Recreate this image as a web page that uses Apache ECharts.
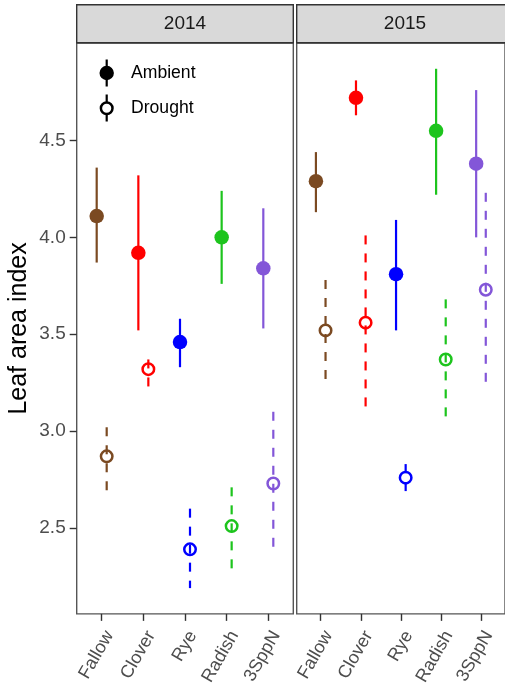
<!DOCTYPE html>
<html>
<head>
<meta charset="utf-8">
<script src="https://cdn.jsdelivr.net/npm/echarts@6/dist/echarts.min.js"></script>
<style>
  html, body { margin: 0; padding: 0; background: #fff; }
  #chart { width: 505px; height: 688px; }
</style>
</head>
<body>
<div id="chart"></div>
<script>
// categories and colours (one colour per cover crop)
var cats = ['Fallow', 'Clover', 'Rye', 'Radish', '3SppN'];
var catColors = ['#7B4A22', '#FF0000', '#0000FF', '#1DC41D', '#8356D8'];
var yTicks = [2.5, 3.0, 3.5, 4.0, 4.5];

// 2014 panel: mean, lower, upper
var amb14 = [4.11, 3.92, 3.46, 4.00, 3.84];
var amb14Lo = [3.87, 3.52, 3.33, 3.76, 3.53];
var amb14Hi = [4.36, 4.32, 3.58, 4.24, 4.15];
var dro14 = [2.87, 3.32, 2.39, 2.51, 2.73];
var dro14Lo = [2.68, 3.23, 2.19, 2.27, 2.37];
var dro14Hi = [3.02, 3.37, 2.60, 2.71, 3.10];

// 2015 panel
var amb15 = [4.29, 4.72, 3.81, 4.55, 4.38];
var amb15Lo = [4.13, 4.63, 3.52, 4.22, 4.00];
var amb15Hi = [4.44, 4.81, 4.09, 4.87, 4.76];
var dro15 = [3.52, 3.56, 2.76, 3.37, 3.73];
var dro15Lo = [3.25, 3.09, 2.69, 3.05, 3.21];
var dro15Hi = [3.78, 4.01, 2.83, 3.68, 4.23];

var dodge = 0.12;
var font = '"Liberation Sans", Arial, sans-serif';

var chart = echarts.init(document.getElementById('chart'));

function pts(vals, off) {
    return vals.map(function (v, i) {
        return [i + 1 + off, v];
    });
}

function bars(lo, hi, off) {
    return lo.map(function (v, i) {
        return [i + 1 + off, v, hi[i], i];
    });
}

function errSeries(idx, lo, hi, off, dashed) {
    return {
        type: 'custom',
        xAxisIndex: idx,
        yAxisIndex: idx,
        silent: true,
        z: 2,
        encode: {x: 0, y: [1, 2]},
        data: bars(lo, hi, off),
        renderItem: function (params, api) {
            var top = api.coord([api.value(0), api.value(2)]);
            var bot = api.coord([api.value(0), api.value(1)]);
            return {
                type: 'line',
                shape: {x1: top[0], y1: top[1], x2: bot[0], y2: bot[1]},
                style: {
                    stroke: catColors[api.value(3)],
                    lineWidth: 2.2,
                    lineDash: dashed ? [9, 9] : null
                }
            };
        }
    };
}

function pointSeries(idx, vals, off, hollow) {
    return {
        type: 'scatter',
        xAxisIndex: idx,
        yAxisIndex: idx,
        silent: true,
        z: 3,
        symbol: 'circle',
        symbolSize: hollow ? 11.5 : 14.5,
        data: pts(vals, off).map(function (p, i) {
            return {
                value: p,
                itemStyle: hollow
                    ? {color: 'rgba(0,0,0,0)', borderColor: catColors[i], borderWidth: 2.5, opacity: 1}
                    : {color: catColors[i], opacity: 1}
            };
        })
    };
}

function xAxis(idx) {
    return {
        type: 'value',
        gridIndex: idx,
        min: 0.4,
        max: 5.6,
        splitLine: {show: false},
        axisLine: {show: false},
        axisTick: {
            show: true,
            length: 7,
            customValues: [1, 2, 3, 4, 5],
            lineStyle: {color: '#333', width: 1.4}
        },
        axisLabel: {
            customValues: [1, 2, 3, 4, 5],
            rotate: 60,
            margin: 14,
            verticalAlign: 'top',
            fontSize: 18,
            fontFamily: font,
            color: '#4D4D4D',
            formatter: function (v) { return cats[Math.round(v) - 1]; }
        }
    };
}

function yAxis(idx) {
    var first = idx === 0;
    return {
        type: 'value',
        gridIndex: idx,
        min: 2.057,
        max: 5.003,
        splitLine: {show: false},
        axisLine: {show: false},
        name: first ? 'Leaf area index' : '',
        nameLocation: 'middle',
        nameGap: 45,
        nameTextStyle: {fontSize: 25, fontFamily: font, color: '#000'},
        axisTick: {
            show: first,
            length: 7,
            customValues: yTicks,
            lineStyle: {color: '#333', width: 1.4}
        },
        axisLabel: {
            show: first,
            customValues: yTicks,
            margin: 11,
            fontSize: 19,
            fontFamily: font,
            color: '#4D4D4D',
            formatter: function (v) { return v.toFixed(1); }
        }
    };
}

var gridStyle = {show: true, borderColor: '#555', borderWidth: 1.4, backgroundColor: '#fff', top: 43, height: 572, width: 216.6};

var option = {
    animation: false,
    backgroundColor: '#fff',
    grid: [
        Object.assign({left: 76.7}, gridStyle),
        Object.assign({left: 296.7}, gridStyle)
    ],
    xAxis: [xAxis(0), xAxis(1)],
    yAxis: [yAxis(0), yAxis(1)],
    series: [
        errSeries(0, amb14Lo, amb14Hi, -dodge, false),
        errSeries(0, dro14Lo, dro14Hi, dodge, true),
        pointSeries(0, amb14, -dodge, false),
        pointSeries(0, dro14, dodge, true),
        errSeries(1, amb15Lo, amb15Hi, -dodge, false),
        errSeries(1, dro15Lo, dro15Hi, dodge, true),
        pointSeries(1, amb15, -dodge, false),
        pointSeries(1, dro15, dodge, true)
    ],
    graphic: [
        // facet strips
        {type: 'rect', shape: {x: 76.7, y: 4.7, width: 216.6, height: 38},
         style: {fill: '#D9D9D9', stroke: '#333', lineWidth: 1.4}},
        {type: 'text', x: 185, y: 24, style: {text: '2014', fontSize: 19, fontFamily: font,
         fill: '#1A1A1A', align: 'center', verticalAlign: 'middle'}},
        {type: 'rect', shape: {x: 296.7, y: 4.7, width: 216.6, height: 38},
         style: {fill: '#D9D9D9', stroke: '#333', lineWidth: 1.4}},
        {type: 'text', x: 405, y: 24, style: {text: '2015', fontSize: 19, fontFamily: font,
         fill: '#1A1A1A', align: 'center', verticalAlign: 'middle'}},
        // legend
        {type: 'line', shape: {x1: 106.7, y1: 59.5, x2: 106.7, y2: 86.5}, style: {stroke: '#000', lineWidth: 2.2}},
        {type: 'circle', shape: {cx: 106.7, cy: 73, r: 7.2}, style: {fill: '#000'}},
        {type: 'text', x: 131, y: 73, style: {text: 'Ambient', fontSize: 17.6, fontFamily: font,
         fill: '#000', verticalAlign: 'middle'}},
        {type: 'line', shape: {x1: 106.7, y1: 94.5, x2: 106.7, y2: 121.5}, style: {stroke: '#000', lineWidth: 2.2}},
        {type: 'circle', shape: {cx: 106.7, cy: 108.3, r: 5.8}, style: {fill: '#fff', stroke: '#000', lineWidth: 2.5}},
        {type: 'text', x: 131, y: 108.3, style: {text: 'Drought', fontSize: 17.6, fontFamily: font,
         fill: '#000', verticalAlign: 'middle'}}
    ]
};

chart.setOption(option);
</script>
</body>
</html>
